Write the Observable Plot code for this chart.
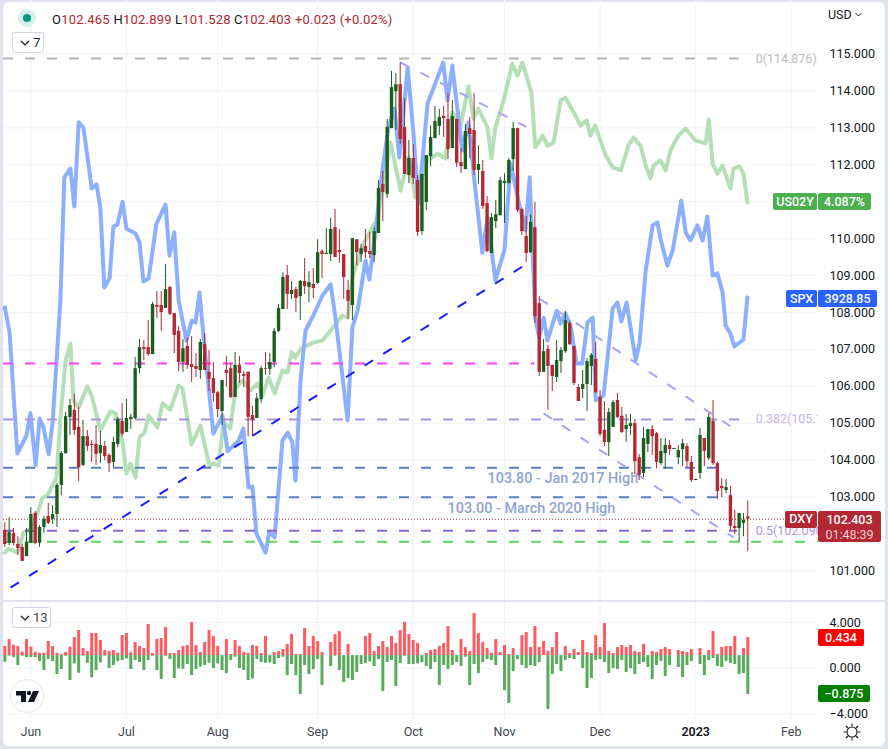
<!DOCTYPE html>
<html><head><meta charset="utf-8">
<script src="https://cdn.jsdelivr.net/npm/d3@7"></script>
<script src="https://cdn.jsdelivr.net/npm/@observablehq/plot@0.6"></script>
<style>
html,body{margin:0;padding:0;background:#e0e3eb;}
#root{position:relative;width:888px;height:749px;overflow:hidden;background:#e0e3eb;font-family:Roboto,sans-serif;color:#131722;}
#panel{position:absolute;left:3px;top:2px;width:882px;height:744px;background:#fff;border-radius:6px;}
#sep{position:absolute;left:0;top:600px;width:888px;height:2px;background:#e0e3eb;z-index:3;}
.ui{position:absolute;z-index:5;white-space:nowrap;}
.badge{position:absolute;z-index:5;color:#fff;font-size:12.5px;font-weight:500;text-align:center;border-radius:2px;box-sizing:border-box;}
.btn{position:absolute;z-index:5;border:1px solid #d1d4dc;border-radius:3px;background:#fff;font-size:13px;color:#131722;box-sizing:border-box;}
.red{color:#b22833}
</style></head><body><div id="root"><div id="panel"></div><div id="sep"></div></div>
<script>
// DXY daily candles
const open=[102.10,101.75,102.02,101.72,101.64,101.39,101.75,102.56,101.75,102.18,102.48,102.40,102.53,103.32,104.18,105.16,105.35,104.89,103.86,104.64,104.43,104.43,104.18,104.37,104.13,103.94,104.43,105.05,104.75,105.10,105.13,106.48,107.05,107.05,106.86,108.19,108.19,108.11,108.68,107.97,107.49,106.65,107.08,106.59,106.54,106.43,107.13,106.38,106.21,105.83,105.32,106.43,106.48,105.70,106.57,106.32,106.38,105.21,105.13,105.64,106.48,106.46,106.65,107.49,108.08,109.00,108.49,108.62,108.43,108.84,108.68,108.76,108.79,109.65,109.57,109.57,110.30,109.68,109.57,108.60,108.19,109.97,109.57,109.79,109.65,109.54,110.14,111.47,111.20,112.98,113.98,114.17,113.01,111.71,112.17,111.57,110.19,110.98,112.22,112.71,113.04,113.31,113.23,112.44,113.23,112.06,111.87,112.98,112.93,111.85,111.82,110.95,109.60,110.46,110.62,111.49,111.49,112.14,112.98,110.79,110.06,109.62,110.30,108.24,106.38,107.00,106.57,106.24,106.67,106.94,107.70,107.08,105.97,105.92,106.05,106.54,106.73,105.70,104.81,104.48,104.89,105.62,105.19,104.83,104.91,104.99,104.07,103.64,104.43,104.83,104.72,103.91,104.18,104.40,104.29,104.07,104.29,104.37,103.94,103.45,103.64,104.59,104.05,105.05,103.91,103.29,103.18,103.04,102.21,102.15,102.29,102.465];
const high=[102.31,102.45,102.15,101.93,101.72,102.15,102.72,102.61,102.23,102.48,102.83,102.77,103.37,104.24,105.29,105.65,105.78,105.43,105.08,104.81,104.53,104.94,104.78,104.51,104.18,104.62,105.16,105.54,105.65,105.24,106.78,107.27,107.24,107.78,108.27,108.57,108.57,109.30,108.71,107.97,107.62,107.27,107.32,107.35,106.89,107.27,107.43,106.97,106.65,105.86,106.16,106.81,106.62,106.92,106.81,106.40,106.40,105.46,105.81,106.54,106.92,106.89,107.57,108.22,109.08,109.27,108.84,108.68,108.87,109.46,109.11,109.19,109.97,109.70,110.27,110.55,110.79,110.25,109.57,108.87,110.00,109.97,109.84,110.25,110.17,110.30,111.57,111.82,113.23,114.53,114.47,114.77,113.79,112.66,112.55,111.71,111.74,112.25,113.06,113.58,113.50,113.58,113.93,113.74,113.23,112.44,113.09,113.28,113.93,112.52,112.12,111.14,110.68,111.03,111.66,111.76,112.17,113.15,112.98,110.82,110.60,110.63,110.98,108.43,107.27,107.11,106.57,107.24,107.05,108.03,107.76,107.08,106.05,106.43,106.75,106.89,107.19,105.89,105.59,105.40,105.62,105.81,105.43,105.24,105.24,105.10,104.15,104.89,104.83,104.94,104.75,104.59,104.59,104.53,104.32,104.40,104.56,104.45,104.10,103.48,104.86,104.59,105.27,105.62,103.94,103.50,103.48,103.29,102.64,102.56,102.56,102.899];
const low=[101.64,101.69,101.69,101.42,101.26,101.39,101.75,101.72,101.64,102.02,102.26,102.26,102.18,103.04,104.16,104.67,104.67,103.42,103.83,104.24,103.94,103.86,103.91,103.99,103.67,103.80,104.34,104.64,104.75,104.83,105.10,106.35,106.70,106.81,106.86,107.84,107.49,108.11,107.92,106.89,106.40,106.38,106.46,106.11,106.24,106.19,106.43,105.86,105.57,105.16,104.94,105.97,105.67,105.70,106.08,105.97,104.64,104.64,105.13,105.54,106.30,106.30,106.51,107.46,108.08,108.08,108.35,108.00,107.78,108.49,108.27,108.38,108.76,108.92,109.57,109.38,109.49,109.33,108.35,107.81,107.78,109.27,109.35,109.46,109.46,109.35,110.14,110.46,111.09,112.98,112.93,112.55,111.74,111.49,111.47,110.06,110.09,110.76,111.95,112.71,112.79,112.74,112.14,112.44,111.93,111.76,111.87,112.17,111.71,111.47,110.79,109.62,109.60,110.27,110.62,110.41,111.49,111.82,110.71,110.09,109.35,109.60,107.70,106.27,106.38,105.35,105.86,106.11,106.35,106.89,107.11,106.02,105.59,105.67,105.32,106.02,105.81,104.64,104.37,104.10,104.89,105.13,104.72,104.48,104.67,103.61,103.45,103.53,104.21,104.13,103.77,103.86,103.75,104.13,104.29,103.88,103.83,103.80,103.40,103.45,103.48,103.83,103.99,103.86,102.94,102.99,103.10,102.10,101.99,101.77,101.93,101.528];
const close=[101.72,102.04,101.75,101.61,101.26,101.77,102.53,101.75,102.18,102.40,102.29,102.53,103.32,104.18,105.18,105.48,104.81,103.80,104.64,104.37,104.40,104.16,104.40,104.10,103.91,104.48,105.10,104.70,105.13,105.16,106.48,107.05,107.00,106.86,108.22,108.14,108.00,108.62,107.95,107.38,106.65,107.02,106.57,106.51,106.46,107.19,106.43,106.19,105.81,105.37,106.16,106.35,105.70,106.57,106.35,106.27,105.16,105.08,105.67,106.48,106.46,106.65,107.49,108.11,108.95,108.49,108.60,108.38,108.84,108.70,108.81,108.65,109.62,109.57,109.60,110.25,109.49,109.62,108.95,108.30,110.00,109.62,109.73,109.62,109.57,110.19,111.36,111.25,113.01,114.09,114.17,112.69,111.74,112.17,111.63,110.17,111.74,112.25,112.74,113.17,113.28,113.25,112.41,113.31,112.04,111.95,112.90,112.82,111.85,112.01,110.87,109.65,110.57,110.65,111.57,111.55,112.12,112.98,110.76,110.19,109.60,110.44,107.89,106.38,106.94,106.54,106.27,106.70,106.97,107.78,107.13,106.08,105.59,106.05,106.67,106.84,105.83,104.70,104.48,105.29,105.56,105.16,104.75,104.94,104.99,103.96,103.59,104.59,104.83,104.64,103.94,104.24,104.40,104.29,104.32,104.26,104.45,103.96,103.45,103.48,104.67,104.24,105.16,103.91,103.15,103.23,103.26,102.21,102.15,102.56,102.37,102.403];

// SPX overlay, read on the DXY price axis
const spxBar=[0,1.1,2.9,5,5.9,7.1,8,8.9,10.1,11,12.8,13.7,15.1,16,17,18.1,20,21.1,22,22.9,24.1,25,25.9,27.1,28,30.1,31,31.9,33.1,34.9,37,37.9,39,40,41.8,43,43.9,44.8,46.2,48,50.1,51.3,53.8,54.9,56.1,57,57.9,60,60.9,62.1,63.9,65.1,66.2,66.9,68.1,69.2,71,73.1,75,76.1,78.9,80,81.2,83,83.9,85.3,86.9,88.3,89.7,90.8,92.7,94,95.2,97.3,98.7,100.9,101.9,103,104.2,105.3,106.7,107.9,109.9,111.1,112.9,115,116.4,118.7,119.8,120.8,122.1,123,124,124.9,127,127.9,129,130.2,131.6,132.9,134.1,135.3,136,137.8,139.9,141,141.9,143.1,145.2,146.1,147.5,149.1,150.2,150.9,152.5,153.7,155.7,156.7,157.8,159.4,160.6,161.7,162.9,164,165.2,165.9,167,167.9,170,170.9];
const spxVal=[108.14,107.46,104.18,104.67,105.27,103.86,105.13,104.89,104.16,105.02,108.33,111.66,111.9,110.87,113.15,113.01,111.36,111.47,110.82,108.68,108.92,110.33,110.38,111.0,110.27,110.14,109.9,108.84,108.92,110.41,110.92,109.54,110.17,108.33,107.24,107.78,107.73,108.54,106.78,104.72,105.21,104.24,104.53,104.86,103.26,103.29,102.02,101.5,102.07,101.91,104.53,104.75,104.48,103.45,106.21,107.51,107.92,108.46,108.76,107.86,105.08,107.6,108.05,109.41,108.89,110.17,111.85,113.01,113.52,112.2,114.63,112.93,110.95,113.66,114.09,114.77,113.74,114.69,113.47,112.39,113.15,111.76,109.62,110.57,108.87,109.7,112.03,110.76,110.22,111.66,107.84,107.32,107.86,107.24,108.05,107.7,107.97,107.65,106.62,106.62,107.73,107.86,105.62,105.75,108.11,108.27,107.76,108.27,106.7,107.19,109.14,110.36,110.44,110.0,109.27,109.68,111.03,110.17,109.95,110.36,109.95,110.6,109.0,109.06,108.54,107.65,107.43,107.08,107.27,108.41];

// US02Y overlay, read on the DXY price axis
const usBar=[0,0.9,2.9,4.3,6.4,7.5,8.7,9.8,11.9,12.8,14,15.1,15.8,17,19,20,22,24.3,25.5,27.1,28,28.9,30.1,31,32.2,33.1,35.1,36.3,38.1,40,40.9,43,45,47.1,48,49.2,50.3,51.9,53.1,54.7,56.5,58.2,59.3,60.7,62.1,63.9,65.1,66,66.9,68.1,71,73.1,75,77.7,78.9,80,82.6,84.8,85.8,86.9,88.8,91.1,92.9,94.5,97.3,99.6,101.4,103,104.9,106.7,107.9,109,111.1,112,112.9,114.8,116.8,118,119.1,121.2,122.1,123.8,124.9,126.3,127.9,129,131.3,132.5,133.9,134.8,135.9,138.3,139.9,141.8,143.5,144.7,146.3,147.5,148.6,149.3,150.9,152.1,153.2,155,156.7,158.9,160.6,161.3,162,162.9,164,165.2,167,167.7,169.1,170,170.9];
const usVal=[101.5,101.61,101.5,102.04,102.18,102.56,102.99,103.04,103.53,105.16,106.7,107.16,105.62,105.43,106,105.75,104.81,105.32,105.27,104.48,103.64,103.91,103.53,104.62,104.75,105.21,104.89,105.54,105.37,106.02,105.94,104.43,104.94,103.86,103.91,103.86,105.02,104.86,105.94,106.16,105.89,106.08,105.75,106.24,105.81,106.43,106.38,106.92,106.78,107.02,107.19,107.24,107.51,107.92,107.86,108.95,109.87,110.36,110.49,111.39,112.6,111.3,112.2,111.11,112.12,112.3,112.17,113.42,113.06,114.12,113.25,113.52,113.01,112.17,113.01,113.74,114.74,114.42,114.77,113.96,112.48,112.79,112.52,112.6,113.74,113.82,113.34,113.06,113.2,112.79,113.06,112.25,111.93,111.85,112.52,112.74,112.52,111.98,111.63,111.98,112.12,111.85,112.39,112.79,112.98,112.66,112.6,112.58,113.23,112.03,111.76,111.98,111.36,111.9,111.95,111.76,110.98];

// Indicator histogram magnitudes (1 axis unit = 34.2)
const histUp=[27,48,31,27,10,48,25,10,7,7,42,27,7,3,9,25,54,75,21,12,66,66,45,15,12,15,7,60,66,9,39,27,21,93,6,48,51,84,6,6,15,27,30,99,30,9,39,75,57,27,0,48,3,45,27,9,7,30,27,6,57,0,9,12,18,33,63,3,3,81,27,57,42,9,0,39,63,72,0,33,0,0,0,57,66,12,27,42,24,57,36,75,99,63,45,36,0,6,15,18,27,36,87,15,0,48,24,12,126,66,39,21,7,48,9,30,3,21,0,60,69,24,87,24,42,12,24,69,0,27,6,18,9,45,9,6,60,24,96,12,6,24,30,24,30,12,9,33,0,12,9,18,24,18,0,15,12,9,18,0,21,0,15,72,3,24,27,27,57,0,21,54];
const histDown=[20,2,6,30,2,6,6,6,18,45,12,18,57,42,2,75,25,53,2,23,67,45,22,2,39,30,18,15,10,42,15,21,45,15,2,45,72,2,12,69,40,41,27,60,42,35,30,23,39,25,45,54,15,5,39,45,75,70,12,21,23,22,27,9,5,60,27,60,117,30,57,42,12,90,0,33,2,45,81,69,75,51,27,24,19,33,12,108,21,15,93,24,2,27,27,25,21,33,42,21,90,30,42,30,21,33,5,90,27,54,21,12,15,30,0,105,144,48,12,30,39,30,33,21,0,162,57,27,48,15,9,12,0,39,99,69,15,12,21,54,39,42,15,51,39,57,27,21,36,72,30,18,63,30,0,36,66,30,18,0,27,60,15,9,33,36,18,24,27,57,54,117];
const histBase=1.11, histUnit=1/34.2;

// Axis ticks
const priceTicks=[101,102,103,104,105,106,107,108,109,110,111,112,113,114,115];
const priceLabels=[101,103,104,105,106,107,108,109,110,112,113,114,115];
const oscTicks=[4,0,-4];
const monthBars=[6,28,49,72,94,115,137,181];
const monthLabels=["Jun","Jul","Aug","Sep","Oct","Nov","Dec","Feb"];
const yearBar=[159], yearLabel=["2023"];

// Drawn levels and trendlines
const levels=[
 {p:114.876,to:169,c:"#b2b5be"},
 {p:106.62,to:122,c:"#ff40f5"},
 {p:105.10,to:169.5,c:"#ab93d9"},
 {p:103.80,to:164.2,c:"#5d7dc4"},
 {p:103.00,to:164.2,c:"#5d7dc4"},
 {p:102.09,to:168.7,c:"#8c64d2"},
 {p:101.79,to:187.27,c:"#5fd35f"}
];
const trends=[
 {b1:1.3,p1:100.55,b2:119.2,p2:109.25,c:"#1a1aff"},
 {b1:91.1,p1:114.77,b2:120,p2:113.03,c:"#aaa4f8"},
 {b1:123,p1:108.38,b2:167,p2:104.92,c:"#aaa4f8"},
 {b1:124,p1:105.27,b2:167.7,p2:101.91,c:"#aaa4f8"}
];
const fibTexts=[{p:114.876,t:"0(114.876)"},{p:105.127,t:"0.382(105.127)"},{p:102.09,t:"0.5(102.090)"}];
const notes=[{b:111.1,p:103.50,t:"103.80 - Jan 2017 High"},{b:101.9,p:102.69,t:"103.00 - March 2020 High"}];

const candles=open.map((o,i)=>({i,o,h:high[i],l:low[i],c:close[i]}));
const up=candles.filter(d=>d.c>=d.o), down=candles.filter(d=>d.c<d.o);
const spx=spxBar.map((b,k)=>({b,v:spxVal[k]}));
const us=usBar.map((b,k)=>({b,v:usVal[k]}));
const hist=histUp.map((u,i)=>({i,u:histBase+u*histUnit,d:histBase-histDown[i]*histUnit}));

const GRID="#f0f3fa", FONT="Roboto,sans-serif", CG="#1b5e20", CR="#b22833";
const XDOM=[-0.99,187.27], XALL=monthBars.concat(yearBar);

const main=Plot.plot({
 width:888,height:601,marginLeft:0,marginRight:70,marginTop:0,marginBottom:0,
 x:{domain:XDOM,axis:null},y:{domain:[100.175,116.449],axis:null},
 style:{background:"transparent",fontFamily:FONT,fontSize:"12px",color:"#131722",overflow:"visible"},
 marks:[
  Plot.ruleX(XALL,{stroke:GRID,strokeWidth:1}),
  Plot.ruleY(priceTicks,{x1:-0.3,x2:XDOM[1],stroke:GRID,strokeWidth:1}),
  Plot.line(us,{x:"b",y:"v",stroke:"#b4dfb7",strokeWidth:4,strokeLinejoin:"round",curve:"linear"}),
  Plot.line(spx,{x:"b",y:"v",stroke:"#8cb0fd",strokeWidth:4,strokeLinejoin:"round",curve:"linear"}),
  Plot.ruleY(levels,{y:"p",x1:-0.3,x2:"to",stroke:"c",strokeWidth:2,strokeDasharray:"10 12"}),
  Plot.link(trends,{x1:"b1",y1:"p1",x2:"b2",y2:"p2",stroke:"c",strokeWidth:2,strokeDasharray:"10 12"}),
  Plot.ruleY([102.403],{x1:-0.3,x2:XDOM[1],stroke:CR,strokeWidth:1,strokeDasharray:"1 2"}),
  Plot.ruleX(down,{x:"i",y1:"l",y2:"h",stroke:CR,strokeWidth:1}),
  Plot.ruleX(up,{x:"i",y1:"l",y2:"h",stroke:CG,strokeWidth:1}),
  Plot.ruleX(down,{x:"i",y1:"o",y2:"c",stroke:CR,strokeWidth:3.4}),
  Plot.ruleX(up,{x:"i",y1:"o",y2:"c",stroke:CG,strokeWidth:3.4}),
  Plot.text(notes,{x:"b",y:"p",text:"t",textAnchor:"start",fill:"#8ea4d0",fontSize:14.4,fontWeight:500}),
  Plot.text(fibTexts.slice(0,1),{x:172.8,y:"p",text:"t",textAnchor:"start",fill:"#bdbdbd",fontSize:12.5,clip:"frame"}),
  Plot.text(fibTexts.slice(1,2),{x:172.8,y:"p",text:"t",textAnchor:"start",fill:"#c7b6e6",fontSize:12.5,clip:"frame"}),
  Plot.text(fibTexts.slice(2),{x:172.8,y:"p",text:"t",textAnchor:"start",fill:"#b09ae0",fontSize:12.5,clip:"frame"}),
  Plot.axisY(priceLabels,{anchor:"right",tickSize:0,tickPadding:11,tickFormat:d=>d.toFixed(3),label:null,fill:"#131722",fontSize:12.5})
 ]
});

const osc=Plot.plot({
 width:888,height:148,marginLeft:0,marginRight:70,marginTop:0,marginBottom:31,
 x:{domain:XDOM,axis:null},y:{domain:[-4.41,5.85],axis:null},
 style:{background:"transparent",fontFamily:FONT,fontSize:"12px",color:"#131722",overflow:"visible"},
 marks:[
  Plot.ruleX(XALL,{stroke:GRID,strokeWidth:1}),
  Plot.ruleY(oscTicks,{x1:-0.3,x2:XDOM[1],stroke:GRID,strokeWidth:1}),
  Plot.ruleX(hist,{x:"i",y1:histBase,y2:"u",stroke:"#ff5a5f",strokeWidth:3}),
  Plot.ruleX(hist,{x:"i",y1:histBase,y2:"d",stroke:"#5aab5e",strokeWidth:3}),
  Plot.axisY(oscTicks,{anchor:"right",tickSize:0,tickPadding:11,tickFormat:d=>(d<0?"\u2212":"")+Math.abs(d).toFixed(3),label:null,fill:"#131722",fontSize:12.5}),
  Plot.axisX(monthBars,{anchor:"bottom",tickSize:0,tickPadding:9,tickFormat:d=>monthLabels[monthBars.indexOf(d)],label:null,fill:"#434651",fontSize:12.5}),
  Plot.axisX(yearBar,{anchor:"bottom",tickSize:0,tickPadding:9,tickFormat:()=>yearLabel[0],label:null,fill:"#131722",fontSize:12.5,fontWeight:600})
 ]
});

const root=document.getElementById("root");
root.appendChild(main);root.appendChild(osc);
main.style.position="absolute";main.style.left="0";main.style.top="0";main.style.zIndex=2;main.style.maxWidth="none";
osc.style.position="absolute";osc.style.left="0";osc.style.top="601px";osc.style.zIndex=2;osc.style.maxWidth="none";

function add(html){const t=document.createElement("template");t.innerHTML=html.trim();root.appendChild(t.content.firstChild);}
// legend row
add(`<svg class="ui" style="left:17px;top:9px" width="20" height="20"><circle cx="10" cy="9" r="9" fill="#d9f1ed"/><circle cx="10" cy="9" r="4" fill="#089981"/></svg>`);
const ohlc=[["O","102.465",52],["H","102.899",113.5],["L","101.528",175],["C","102.403",234]];
ohlc.forEach(([k,v,x])=>add(`<div class="ui" style="left:${x}px;top:11.5px;font-size:13px;letter-spacing:.2px"><span>${k}</span><span class="red">${v}</span></div>`));
add(`<div class="ui red" style="left:295px;top:11.5px;font-size:13px;letter-spacing:.2px">+0.023 (+0.02%)</div>`);
// collapse buttons
const chev=`<svg width="10" height="6" style="position:absolute;left:7px;top:7px"><path d="M1 1l4 4 4-4" fill="none" stroke="#131722" stroke-width="1.2"/></svg>`;
add(`<div class="btn" style="left:12px;top:32px;width:32px;height:21px">${chev}<span style="position:absolute;left:20px;top:2px">7</span></div>`);
add(`<div class="btn" style="left:12px;top:607px;width:39px;height:21px">${chev}<span style="position:absolute;left:20px;top:2px;color:#434651">13</span></div>`);
// logo
add(`<svg class="ui" style="left:9px;top:678px" width="36" height="36"><circle cx="18" cy="18" r="16.5" fill="#fff" stroke="#e8e9ed" stroke-width="1"/><path d="M7 13h10v11h-5v-6.5H7zM19 24l5-11h6l-5 11z" fill="#131722"/><circle cx="20" cy="15" r="2.2" fill="#131722"/></svg>`);
// USD + sun
add(`<div class="ui" style="left:828px;top:7px;font-size:12.5px">USD <svg width="7" height="5" style="vertical-align:2px"><path d="M0.5 1l3 3 3-3" fill="none" stroke="#131722"/></svg></div>`);
add(`<svg class="ui" style="left:843px;top:723px" width="18" height="18"><circle cx="9" cy="9" r="5" fill="none" stroke="#131722" stroke-width="1.1"/><path d="M9 0.5v3M9 14.5v3M0.5 9h3M14.5 9h3M3 3l2 2M13 13l2 2M3 15l2-2M13 5l2-2" stroke="#131722" stroke-width="1.1"/></svg>`);
// price badges
function badge(x,y,w,h,bg,html,extra=""){add(`<div class="badge" style="left:${x}px;top:${y}px;width:${w}px;height:${h}px;background:${bg};line-height:${h}px;${extra}">${html}</div>`);}
badge(773,193,44,17,"#4caf50","US02Y");
badge(818,193,53,17,"#4caf50","4.087%");
badge(786,290,31,17,"#2962ff","SPX");
badge(818,290,59,17,"#2962ff","3928.85");
badge(785,511,32,16.5,"#b22833","DXY");
add(`<div class="badge" style="left:818px;top:511px;width:63px;height:31px;background:#b22833;line-height:15px;padding-top:1px">102.403<br><span style="color:#f3cdd0;font-weight:400">01:48:39</span></div>`);
badge(818,629,46,17,"#ff0000","0.434");
badge(818,685,52,17,"#008000","\u22120.875");
</script></body></html>
